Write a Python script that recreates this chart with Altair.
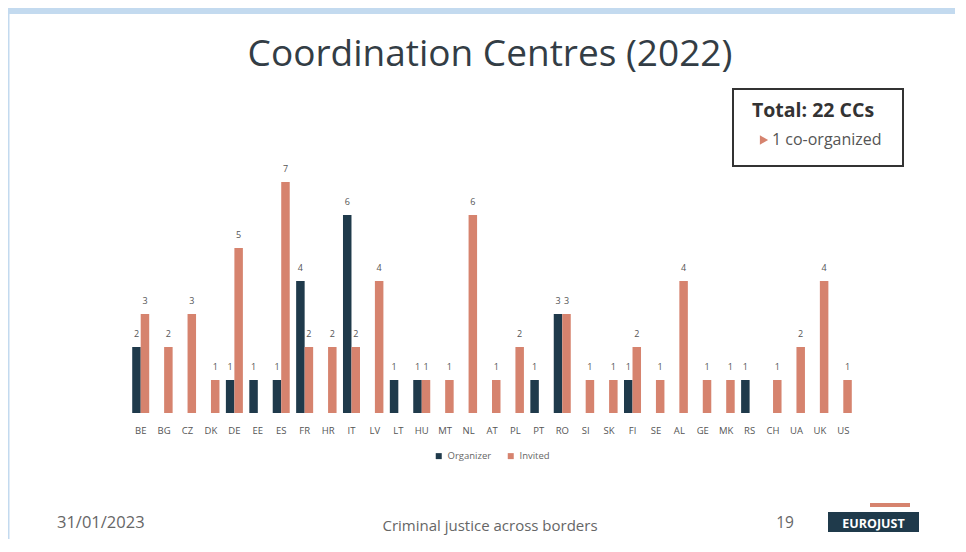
import altair as alt
import pandas as pd

# ---------------- data ----------------
countries = ["BE", "BG", "CZ", "DK", "DE", "EE", "ES", "FR", "HR", "IT", "LV", "LT",
             "HU", "MT", "NL", "AT", "PL", "PT", "RO", "SI", "SK", "FI", "SE", "AL",
             "GE", "MK", "RS", "CH", "UA", "UK", "US"]
organizer = [2, 0, 0, 0, 1, 1, 1, 4, 0, 6, 0, 1, 1, 0, 0, 0, 0, 1, 3, 0, 0, 1, 0, 0,
             0, 0, 1, 0, 0, 0, 0]
invited = [3, 2, 3, 1, 5, 0, 7, 2, 2, 2, 4, 0, 1, 1, 6, 1, 2, 0, 3, 1, 1, 2, 1, 4,
           1, 1, 0, 1, 2, 4, 1]
series = ["Organizer", "Invited"]

TITLE = "Coordination Centres (2022)"
BOX_TITLE = "Total: 22 CCs"
BOX_NOTE = "1 co-organized"
FOOT_DATE = "31/01/2023"
FOOT_MID = "Criminal justice across borders"
FOOT_PAGE = "19"
LOGO = "EUROJUST"

NAVY = "#1f3a4b"
SALMON = "#d6836e"
FONT = "Open Sans"

rows = []
for c, o, i in zip(countries, organizer, invited):
    if o:
        rows.append({"country": c, "series": "Organizer", "value": o})
    if i:
        rows.append({"country": c, "series": "Invited", "value": i})
df = pd.DataFrame(rows)

base = alt.Chart(df).encode(
    x=alt.X("country:N", sort=countries,
            scale=alt.Scale(paddingInner=0.274, paddingOuter=0.137),
            axis=alt.Axis(title=None, labelAngle=0, domain=False, ticks=False,
                          labelPadding=12, labelFontSize=9.5, labelColor="#555",
                          labelFont=FONT, grid=False)),
    xOffset=alt.XOffset("series:N", sort=series,
                        scale=alt.Scale(domain=series, paddingInner=0, paddingOuter=0)),
    y=alt.Y("value:Q", scale=alt.Scale(domain=[0, 8]), axis=None),
)

bars = base.mark_bar().encode(
    color=alt.Color("series:N", sort=series,
                    scale=alt.Scale(domain=series, range=[NAVY, SALMON]),
                    legend=alt.Legend(title=None, orient="none", legendX=305, legendY=302,
                                      direction="horizontal", columns=2,
                                      symbolType="square", symbolSize=36,
                                      labelFontSize=9.5, labelColor="#666",
                                      labelFont=FONT, columnPadding=14))
)
labels = base.mark_text(dy=-13, baseline="middle", fontSize=9, color="#555",
                        font=FONT).encode(text="value:Q")


def one(v):
    return alt.Chart(pd.DataFrame({"t": [v]}))


def txt(s, x, y, size, color, weight="normal", align="left"):
    return one(s).mark_text(fontSize=size, color=color, fontWeight=weight, align=align,
                            baseline="alphabetic", font=FONT).encode(
        x=alt.value(x), y=alt.value(y), text="t:N")


def box(x, x2, y, y2, **kw):
    return one("r").mark_rect(**kw).encode(
        x=alt.value(x), x2=alt.value(x2), y=alt.value(y), y2=alt.value(y2))


frame_top = box(-121, 829, -141, -135, color="#c3daef")
frame_left = box(-121, -119.5, -141, 390, color="#c3daef")

title = txt(TITLE, 361, -83, 37, "#333d45", align="center")

legend_box = box(604, 774, -60, 17, fill="white", stroke="#333", strokeWidth=2)
box_title = txt(BOX_TITLE, 623, -32, 19.5, "#333", weight="bold")
box_marker = one("m").mark_point(shape="triangle-right", filled=True, color=SALMON,
                                 size=90, opacity=1).encode(
    x=alt.value(635), y=alt.value(-9))
box_note = txt(BOX_NOTE, 643, -4, 16, "#555")

foot_date = txt(FOOT_DATE, -72, 379, 16.5, "#666")
foot_mid = txt(FOOT_MID, 361, 382, 15, "#666", align="center")
foot_page = txt(FOOT_PAGE, 656, 379, 15.5, "#666", align="center")
logo_bar = box(741, 781, 354, 358, color=SALMON)
logo_box = box(699, 790, 363, 383, color=NAVY)
logo_txt = txt(LOGO, 744.5, 378.5, 12.5, "white", weight="bold", align="center")

chart = alt.layer(
    frame_top, frame_left, bars, labels, title, legend_box, box_title, box_marker,
    box_note, foot_date, foot_mid, foot_page, logo_bar, logo_box, logo_txt
).properties(
    width=726, height=264,
    autosize=alt.AutoSizeParams(type="none"),
    padding={"left": 121, "top": 141, "right": 100, "bottom": 126},
    background="white",
).configure_view(stroke=None)

chart.save("out.html", embed_options={"renderer": "svg", "actions": False})
